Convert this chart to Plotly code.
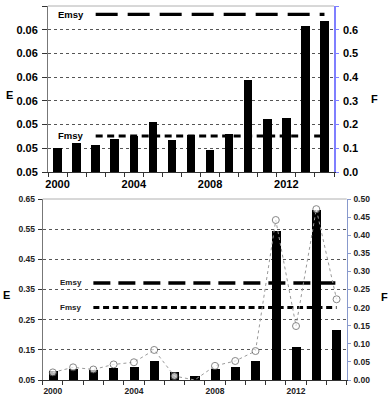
import plotly.graph_objects as go

# ---------------- data ----------------
years = list(range(2000, 2015))
x_label_years = [2000, 2004, 2008, 2012]

# top panel
top_F = [0.100, 0.122, 0.114, 0.141, 0.153, 0.211, 0.137, 0.155,
         0.094, 0.162, 0.390, 0.222, 0.226, 0.617, 0.638]
top_right_ticks = [0.0, 0.1, 0.2, 0.3, 0.4, 0.5, 0.6, 0.7]
top_left_labels = ["0.05", "0.05", "0.05", "0.06", "0.06", "0.06", "0.06", "0.06"]
top_Emsy = 0.665
top_Fmsy = 0.152

# bottom panel
bot_bars = [0.026, 0.030, 0.029, 0.034, 0.036, 0.0525, 0.021, 0.011,
            0.030, 0.037, 0.052, 0.412, 0.092, 0.470, 0.138]
bot_line = [0.021, 0.035, 0.029, 0.043, 0.049, 0.083, 0.011, 0.0,
            0.039, 0.0525, 0.080, 0.442, 0.149, 0.472, 0.223]
bot_hidden_marker_years = [2007]
bot_left_ticks = [0.05, 0.15, 0.25, 0.35, 0.45, 0.55, 0.65]
bot_right_ticks = [0.00, 0.05, 0.10, 0.15, 0.20, 0.25, 0.30, 0.35, 0.40, 0.45, 0.50]
bot_Emsy = 0.268
bot_Fmsy = 0.200

msy_span = [2002, 2014]

# ---------------- styling ----------------
FONT = "Liberation Sans, Arial, sans-serif"
W, H = 391, 404
boundaries = [y - 0.5 for y in years] + [years[-1] + 0.5]

L_RANGE = [bot_left_ticks[0], bot_left_ticks[-1]]
R_RANGE = [bot_right_ticks[0], bot_right_ticks[-1]]
# bottom grid lines sit at the left-axis ticks; express them in right-axis units
bot_grid = [R_RANGE[0] + (v - L_RANGE[0]) / (L_RANGE[1] - L_RANGE[0]) * (R_RANGE[1] - R_RANGE[0])
            for v in bot_left_ticks[1:-1]]


def px_x(a, b):
    return [a / W, b / W]


def px_y(top, bottom):
    return [1 - bottom / H, 1 - top / H]


fig = go.Figure()

# top panel
fig.add_trace(go.Bar(x=years, y=top_F, xaxis="x", yaxis="y",
                     marker=dict(color="black", line=dict(width=0)), width=0.45))
fig.add_trace(go.Scatter(x=msy_span, y=[top_Emsy] * 2, xaxis="x", yaxis="y", mode="lines",
                         line=dict(color="black", width=3.3, dash="22px,10px")))
fig.add_trace(go.Scatter(x=msy_span, y=[top_Fmsy] * 2, xaxis="x", yaxis="y", mode="lines",
                         line=dict(color="black", width=3, dash="7px,4.5px")))
# empty trace so that the right-hand axis is drawn
fig.add_trace(go.Scatter(x=[None], y=[None], xaxis="x", yaxis="y2", mode="markers",
                         hoverinfo="skip"))

# bottom panel
fig.add_trace(go.Bar(x=years, y=bot_bars, xaxis="x2", yaxis="y3",
                     marker=dict(color="black", line=dict(width=0)), width=0.45))
fig.add_trace(go.Scatter(x=msy_span, y=[bot_Emsy] * 2, xaxis="x2", yaxis="y3", mode="lines",
                         line=dict(color="black", width=3.5, dash="17px,8px")))
fig.add_trace(go.Scatter(x=msy_span, y=[bot_Fmsy] * 2, xaxis="x2", yaxis="y3", mode="lines",
                         line=dict(color="black", width=3, dash="6px,3.7px")))
sizes = [0 if y in bot_hidden_marker_years else 7 for y in years]
fig.add_trace(go.Scatter(x=years, y=bot_line, xaxis="x2", yaxis="y3", mode="lines+markers",
                         line=dict(color="#9a9a9a", width=1, dash="dot"),
                         marker=dict(symbol="circle", size=sizes, color="white",
                                     line=dict(color="#555", width=1))))
# empty trace so that the left-hand axis is drawn
fig.add_trace(go.Scatter(x=[None], y=[None], xaxis="x2", yaxis="y4", mode="markers",
                         hoverinfo="skip"))

top_font = dict(family=FONT, size=11, color="black", weight="bold")
bot_font = dict(family=FONT, size=8.5, color="#222", weight="bold")

xcommon = dict(range=[1999.5, 2014.5], tickvals=x_label_years, ticks="",
               showline=True, linecolor="#333", linewidth=1, showgrid=False,
               zeroline=False, automargin=False)

fig.update_layout(
    width=W, height=H,
    margin=dict(l=0, r=0, t=0, b=0),
    paper_bgcolor="white", plot_bgcolor="white",
    showlegend=False,
    bargap=0,
    xaxis=dict(domain=px_x(48, 334), anchor="y", tickfont=top_font,
               ticklabelstandoff=2,
               minor=dict(tickvals=boundaries, ticks="outside", ticklen=4,
                          tickcolor="#333", showgrid=False),
               **xcommon),
    yaxis=dict(domain=px_y(6, 172), anchor="x", side="left", range=[0, 0.7],
               tickvals=top_right_ticks, ticktext=top_left_labels,
               ticks="outside", ticklen=5, tickcolor="#333",
               showline=True, linecolor="#777", linewidth=1, showgrid=False,
               zeroline=False, tickfont=top_font, ticklabelstandoff=2,
               automargin=False,
               minor=dict(tickvals=top_right_ticks[1:-1], showgrid=True,
                          gridcolor="#555", griddash="dot", gridwidth=1, ticks="")),
    yaxis2=dict(overlaying="y", side="right", anchor="x", range=[0, 0.7],
                tickvals=top_right_ticks, ticktext=[f"{v:.1f}" for v in top_right_ticks],
                ticks="outside", ticklen=3, tickcolor="#7f7fff",
                showline=True, linecolor="#7f7fff", linewidth=1.5, showgrid=False,
                zeroline=False, tickfont=top_font, ticklabelstandoff=2,
                automargin=False),
    xaxis2=dict(domain=px_x(42.7, 346.7), anchor="y3", tickfont=bot_font,
                ticklabelstandoff=3,
                minor=dict(tickvals=boundaries, ticks="outside", ticklen=4,
                           tickcolor="#333", showgrid=False),
                **xcommon),
    yaxis3=dict(domain=px_y(199, 380), anchor="x2", side="right", range=R_RANGE,
                tickvals=bot_right_ticks, ticktext=[f"{v:.2f}" for v in bot_right_ticks],
                ticks="outside", ticklen=3, tickcolor="#8899cc",
                showline=True, linecolor="#8899cc", linewidth=1, showgrid=False,
                zeroline=False, tickfont=bot_font, ticklabelstandoff=1,
                automargin=False,
                minor=dict(tickvals=bot_grid, showgrid=True,
                           gridcolor="#555", griddash="dot", gridwidth=1, ticks="")),
    yaxis4=dict(overlaying="y3", side="left", anchor="x2", range=L_RANGE,
                tickvals=bot_left_ticks, ticktext=[f"{v:.2f}" for v in bot_left_ticks],
                ticks="outside", ticklen=4, tickcolor="#333",
                showline=True, linecolor="#777", linewidth=1, showgrid=False,
                zeroline=False, tickfont=bot_font, ticklabelstandoff=1,
                automargin=False),
)

# top borders of the two plot areas
for xr, yr in (("x", "y"), ("x2", "y3")):
    fig.add_shape(type="line", xref=f"{xr} domain", yref=f"{yr} domain",
                  x0=0, x1=1, y0=1, y1=1, line=dict(color="#b0b0b0", width=1))

ann_top = dict(family=FONT, size=9.5, color="black", weight="bold")
ann_bot = dict(family=FONT, size=8, color="#222", weight="bold")
fig.add_annotation(x=1999.9, y=top_Emsy, xref="x", yref="y", text="Emsy",
                   showarrow=False, xanchor="left", yanchor="middle", font=ann_top)
fig.add_annotation(x=1999.9, y=top_Fmsy, xref="x", yref="y", text="Fmsy",
                   showarrow=False, xanchor="left", yanchor="middle", font=ann_top)
fig.add_annotation(x=2000.25, y=bot_Emsy, xref="x2", yref="y3", text="Emsy",
                   showarrow=False, xanchor="left", yanchor="middle", font=ann_bot)
fig.add_annotation(x=2000.25, y=bot_Fmsy, xref="x2", yref="y3", text="Fmsy",
                   showarrow=False, xanchor="left", yanchor="middle", font=ann_bot)

axis_title_font = dict(family=FONT, size=11, color="black", weight="bold")
for txt, (px, py) in (("E", (9, 95)), ("F", (374, 99)), ("E", (6.5, 295)), ("F", (384, 297))):
    fig.add_annotation(x=px / W, y=1 - py / H, xref="paper", yref="paper", text=txt,
                       showarrow=False, xanchor="center", yanchor="middle",
                       font=axis_title_font)

fig.write_html("out.html",
               config={"displayModeBar": False},
               post_script="document.body.style.margin='0px';"
                           "document.body.style.overflow='hidden';")
